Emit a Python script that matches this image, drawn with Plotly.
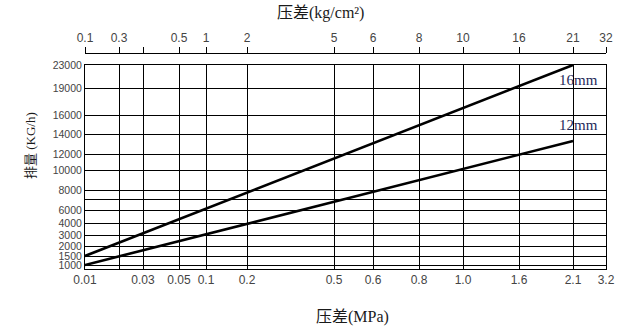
import numpy as np
import plotly.graph_objects as go

# ---------------- data ----------------
PRESSURE_MPA = [0.01, 2.1]
FLOW_16MM = [1500, 23000]
FLOW_12MM = [1000, 13300]
SERIES_NAMES = ["16mm", "12mm"]

# grid values / tick labels
X_GRID_MPA = [0.01, 0.02, 0.03, 0.05, 0.1, 0.2, 0.5, 0.6, 0.8, 1.0, 1.6, 2.1, 3.2]
X_BOTTOM_LABELS = ["0.01", "", "0.03", "0.05", "0.1", "0.2", "0.5", "0.6", "0.8", "1.0", "1.6", "2.1", "3.2"]
X_TOP_LABELS = ["0.1", "0.3", "", "0.5", "1", "2", "5", "6", "8", "10", "16", "21", "32"]
Y_GRID_KGH = [1000, 1500, 2000, 3000, 4000, 6000, 7000, 8000, 10000, 12000, 14000, 16000, 19000, 23000]
Y_LABELS = ["1000", "1500", "2000", "3000", "4000", "6000", "", "8000", "10000", "12000", "14000", "16000", "19000", "23000"]

# ---------------- layout (chart's own non-uniform scale) ----------------
X_GRID_POS = [85, 119, 143, 179, 206, 247, 334, 373, 419, 463, 519, 573, 606]
Y_GRID_POS = [4, 13, 23, 34, 46, 59, 70, 79, 99, 115, 135, 154, 181, 204]

W, H = 640, 326
ML, MR, MT, MB = 85, 34, 53, 57
PW, PH = W - ML - MR, H - MT - MB
Y_TOP = 204


def xs(v):
    return np.interp(np.log10(v), np.log10(X_GRID_MPA), X_GRID_POS)


def ys(v):
    return np.interp(v, Y_GRID_KGH, Y_GRID_POS)


def px_x(px):
    return (px - ML) / PW


def px_y(py):
    return (H - MB - py) / PH


fig = go.Figure()
for name, flow in zip(SERIES_NAMES, [FLOW_16MM, FLOW_12MM]):
    fig.add_trace(go.Scatter(x=xs(PRESSURE_MPA), y=ys(flow), mode="lines",
                             line=dict(color="black", width=2.6), name=name,
                             showlegend=False, hoverinfo="skip"))
# invisible trace for the top axis
fig.add_trace(go.Scatter(x=[X_GRID_POS[0]], y=[0], xaxis="x2", mode="markers",
                         marker=dict(opacity=0), showlegend=False, hoverinfo="skip"))

tick_font = dict(family="Liberation Sans, DejaVu Sans", size=12, color="#444444")

fig.update_layout(
    width=W, height=H,
    margin=dict(l=ML, r=MR, t=MT, b=MB, pad=0),
    paper_bgcolor="white", plot_bgcolor="white",
    xaxis=dict(range=[X_GRID_POS[0], X_GRID_POS[-1]], tickmode="array",
               tickvals=X_GRID_POS, ticktext=X_BOTTOM_LABELS,
               showgrid=True, gridcolor="black", gridwidth=1,
               showline=True, linecolor="black", linewidth=1, mirror=True,
               ticks="", tickfont=tick_font, zeroline=False),
    xaxis2=dict(range=[X_GRID_POS[0], X_GRID_POS[-1]], tickmode="array",
                tickvals=X_GRID_POS, ticktext=X_TOP_LABELS,
                overlaying="x", side="top", anchor="free", position=1,
                showgrid=False, showline=True, linecolor="black", linewidth=1,
                ticks="outside", ticklen=6, tickcolor="black", tickwidth=1,
                tickfont=tick_font, zeroline=False),
    yaxis=dict(range=[0, Y_TOP], domain=[0, Y_TOP / PH], tickmode="array",
               tickvals=Y_GRID_POS, ticktext=Y_LABELS,
               showgrid=True, gridcolor="black", gridwidth=1,
               showline=True, linecolor="black", linewidth=1, mirror=True,
               ticks="", tickfont=dict(family="Liberation Sans, DejaVu Sans", size=10.5, color="#444444"),
               zeroline=False),
)

title_font = dict(family="Liberation Serif, Noto Sans CJK SC", size=16, color="#1a1a1a")
anns = [
    dict(text="压差(kg/cm²)", x=px_x(320), y=px_y(13), font=title_font),
    dict(text="压差(MPa)", x=px_x(352), y=px_y(317), font=title_font),
    dict(text="排量 (KG/h)", x=px_x(30), y=px_y(146), textangle=-90,
         font=dict(family="Liberation Serif, Noto Sans CJK SC", size=13, color="#1a1a1a")),
    dict(text="16mm", x=px_x(578), y=px_y(80),
         font=dict(family="Liberation Serif", size=15, color="#1f2a5a")),
    dict(text="12mm", x=px_x(578), y=px_y(125),
         font=dict(family="Liberation Serif", size=15, color="#1f2a5a")),
]
for a in anns:
    fig.add_annotation(xref="paper", yref="paper", showarrow=False,
                       xanchor="center", yanchor="middle", **a)

fig.write_html("out.html")
